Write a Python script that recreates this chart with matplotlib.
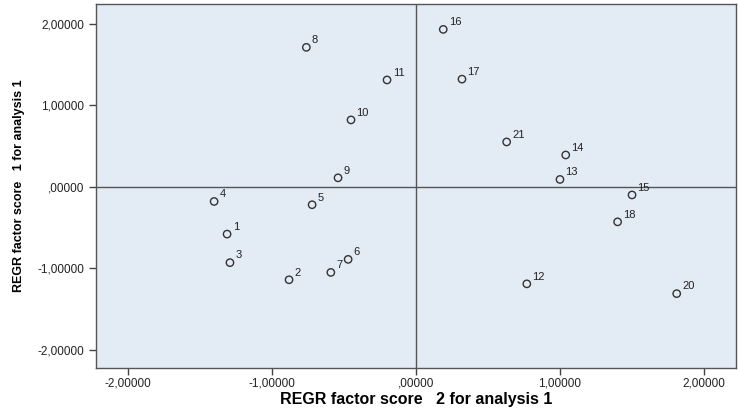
import matplotlib
matplotlib.use("Agg")
import matplotlib.pyplot as plt
from matplotlib.ticker import FuncFormatter

# factor scores per case
case_ids = ["1", "2", "3", "4", "5", "6", "7", "8", "9", "10", "11",
            "12", "13", "14", "15", "16", "17", "18", "20", "21"]
score2 = [-1.31, -0.88, -1.29, -1.40, -0.72, -0.47, -0.59, -0.76, -0.54, -0.45, -0.20,
          0.77, 1.00, 1.04, 1.50, 0.19, 0.32, 1.40, 1.81, 0.63]
score1 = [-0.58, -1.14, -0.93, -0.18, -0.22, -0.89, -1.05, 1.71, 0.11, 0.82, 1.31,
          -1.19, 0.09, 0.39, -0.10, 1.93, 1.32, -0.43, -1.31, 0.55]

ticks = [-2, -1, 0, 1, 2]

plt.rcParams["font.family"] = ["Liberation Sans", "DejaVu Sans"]

fig = plt.figure(figsize=(7.38, 4.11), dpi=100)
ax = fig.add_axes([0.130, 0.105, 0.867, 0.885])
ax.set_facecolor("#E3EBF5")

ax.axhline(0, color="#555555", lw=1.0, zorder=1)
ax.axvline(0, color="#555555", lw=1.0, zorder=1)

ax.scatter(score2, score1, s=28, facecolors="none", edgecolors="#333333",
           linewidths=1.0, zorder=3)
for x, y, lab in zip(score2, score1, case_ids):
    ax.annotate(lab, (x, y), xytext=(4, 3), textcoords="offset points",
                fontsize=8, color="#222222", zorder=4)

ax.set_xlim(-2.22, 2.22)
ax.set_ylim(-2.22, 2.24)
ax.set_xticks(ticks)
ax.set_yticks(ticks)

def fmt(v, pos):
    s = f"{v:.5f}".replace(".", ",")
    if s.startswith("0,"):
        s = s[1:]
    if s.startswith("-0,"):
        s = s[:1] + s[2:]
    return s

ax.xaxis.set_major_formatter(FuncFormatter(fmt))
ax.yaxis.set_major_formatter(FuncFormatter(fmt))
ax.tick_params(direction="out", length=5, width=1, colors="#444444",
               labelsize=8.5, labelcolor="#222222")
ax.tick_params(axis="x", pad=2)

for sp in ax.spines.values():
    sp.set_color("#555555")
    sp.set_linewidth(1.0)

ax.set_xlabel("REGR factor score   2 for analysis 1", fontsize=11.5,
              fontweight="bold", labelpad=2)
ax.set_ylabel("REGR factor score   1 for analysis 1", fontsize=9,
              fontweight="bold", labelpad=9)

fig.savefig("out.png", dpi=100)
